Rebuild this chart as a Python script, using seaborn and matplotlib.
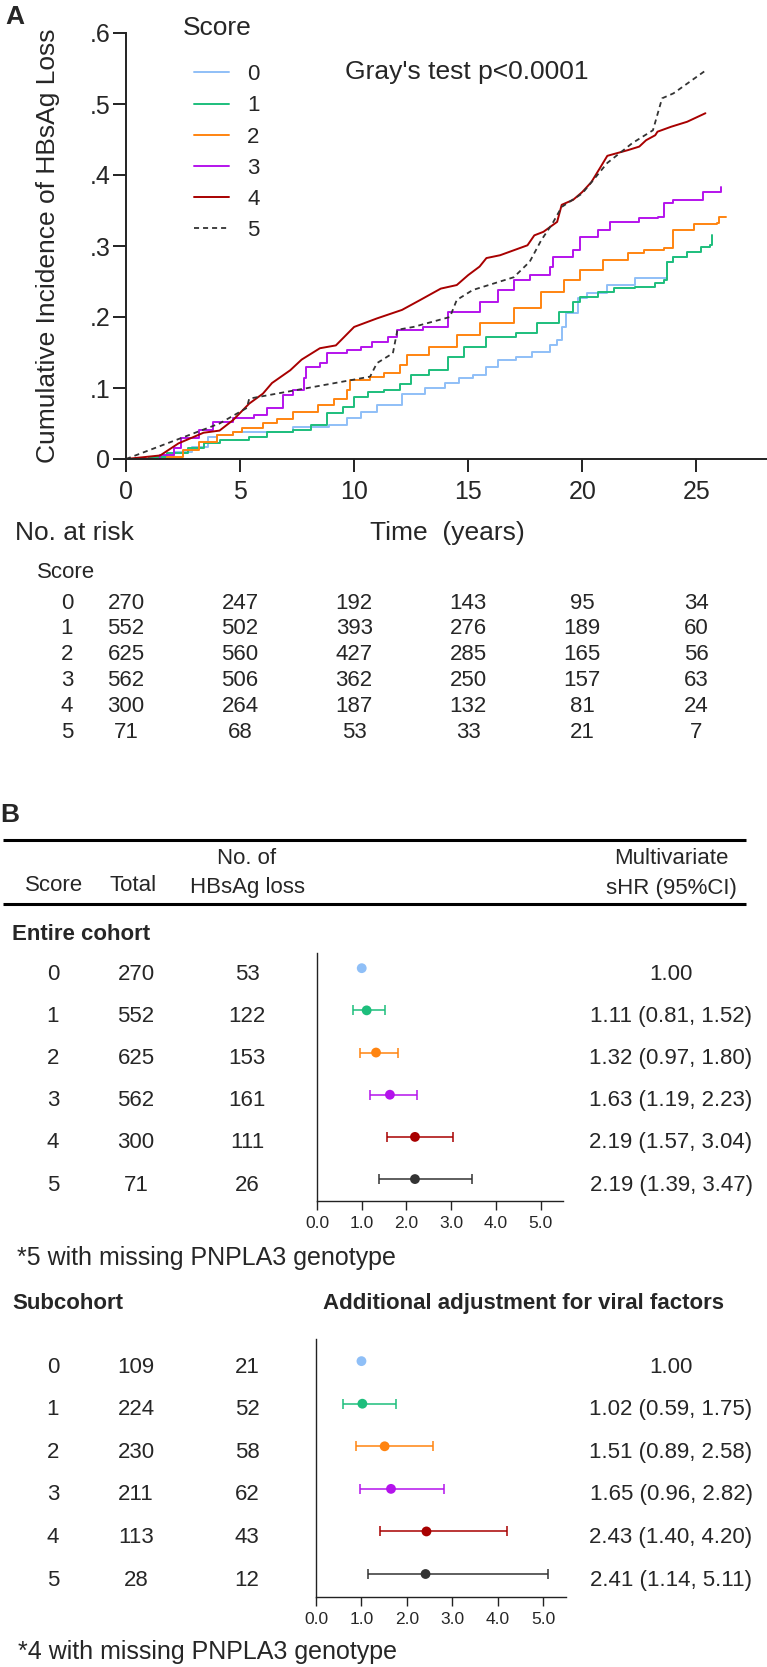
import numpy as np
import pandas as pd
import matplotlib
matplotlib.use('Agg')
import matplotlib.pyplot as plt
import matplotlib.transforms as mtransforms
import seaborn as sns

sns.set_theme(style='white')
plt.rcParams['font.family'] = ['Liberation Sans', 'DejaVu Sans']

# ---------------- data ----------------
scores = [0, 1, 2, 3, 4, 5]
colors = ['#8FBFF7', '#1DBE7C', '#FF8410', '#B413EC', '#A80000', '#333333']

# cumulative incidence curves
t0 = [0, 1.05, 2.1, 2.9, 3.6, 4.0, 4.7, 7.3, 8.9, 9.7, 10.3, 11.0, 12.1, 13.1, 14.0, 14.6, 15.2, 15.8,
      16.3, 17.1, 17.8, 18.6, 18.9, 19.1, 19.3, 19.8, 20.2, 21.1, 22.3, 23.6, 23.7, 24.0, 24.6]
v0 = [0, 0.003, 0.010, 0.017, 0.031, 0.034, 0.038, 0.045, 0.048, 0.058, 0.066, 0.076, 0.092, 0.100, 0.107,
      0.114, 0.118, 0.130, 0.139, 0.144, 0.151, 0.161, 0.168, 0.186, 0.206, 0.227, 0.234, 0.245, 0.255,
      0.255, 0.277, 0.285, 0.290]
t1 = [0, 1.0, 1.8, 2.7, 3.4, 4.1, 5.4, 6.2, 7.3, 8.1, 8.8, 9.5, 10.0, 10.6, 11.3, 12.0, 12.5, 13.3, 14.1,
      14.8, 15.8, 17.1, 18.0, 19.0, 19.6, 19.9, 20.7, 21.4, 22.3, 23.2, 23.6, 23.7, 24.0, 24.6, 25.2, 25.6, 25.7]
v1 = [0, 0.003, 0.008, 0.015, 0.022, 0.027, 0.031, 0.038, 0.041, 0.048, 0.065, 0.073, 0.087, 0.094, 0.097,
      0.105, 0.118, 0.125, 0.144, 0.158, 0.172, 0.177, 0.191, 0.207, 0.221, 0.228, 0.235, 0.241, 0.242,
      0.248, 0.252, 0.277, 0.285, 0.292, 0.299, 0.301, 0.315]
t2 = [0, 1.8, 2.5, 3.2, 4.0, 4.7, 5.1, 6.0, 6.6, 7.3, 8.4, 9.1, 9.7, 9.8, 10.7, 11.3, 12.0, 12.3, 13.3,
      14.5, 15.5, 17.0, 18.2, 19.2, 19.9, 20.9, 22.0, 22.7, 23.6, 24.0, 24.8, 24.9, 25.9, 26.0, 26.3]
v2 = [0, 0.003, 0.013, 0.024, 0.034, 0.038, 0.043, 0.050, 0.057, 0.066, 0.076, 0.085, 0.097, 0.111, 0.116,
      0.121, 0.132, 0.146, 0.158, 0.175, 0.191, 0.212, 0.235, 0.252, 0.266, 0.280, 0.290, 0.294, 0.297,
      0.323, 0.323, 0.331, 0.332, 0.341, 0.341]
t3 = [0, 1.5, 2.1, 2.4, 3.2, 3.8, 4.7, 5.6, 6.2, 6.9, 7.3, 7.8, 7.9, 8.5, 8.8, 9.7, 10.3, 10.8, 11.5, 11.9,
      13.0, 14.1, 15.5, 16.3, 17.0, 17.7, 18.6, 18.7, 19.6, 19.9, 20.7, 21.2, 22.5, 23.3, 23.6, 24.0, 25.3, 26.1]
v3 = [0, 0.005, 0.015, 0.030, 0.041, 0.052, 0.058, 0.062, 0.072, 0.090, 0.097, 0.114, 0.130, 0.135, 0.149,
      0.154, 0.158, 0.165, 0.172, 0.182, 0.186, 0.207, 0.221, 0.238, 0.252, 0.259, 0.270, 0.285, 0.294,
      0.313, 0.323, 0.334, 0.339, 0.341, 0.360, 0.365, 0.376, 0.383]
t4 = [0, 1.5, 2.3, 3.4, 4.1, 4.7, 5.4, 6.0, 6.4, 7.2, 7.7, 8.5, 9.2, 10.0, 11.0, 12.1, 12.9, 13.8, 14.5,
      15.0, 15.5, 15.8, 16.4, 17.0, 17.6, 17.9, 18.3, 18.9, 19.1, 19.6, 20.0, 20.4, 20.8, 21.1, 22.0, 22.5,
      22.8, 23.2, 23.3, 23.9, 24.6, 25.4]
v4 = [0, 0.005, 0.022, 0.037, 0.040, 0.055, 0.078, 0.092, 0.107, 0.125, 0.140, 0.156, 0.160, 0.186, 0.198,
      0.210, 0.224, 0.240, 0.245, 0.259, 0.271, 0.283, 0.287, 0.294, 0.301, 0.315, 0.320, 0.334, 0.358,
      0.365, 0.376, 0.390, 0.411, 0.427, 0.435, 0.440, 0.449, 0.456, 0.461, 0.468, 0.475, 0.487]
t5 = [0, 4.1, 5.3, 5.4, 10.7, 11.0, 11.7, 11.9, 12.6, 14.2, 14.5, 15.2, 17.0, 17.7, 18.2, 18.7, 19.1, 20.0,
      21.1, 22.2, 23.1, 23.5, 24.0, 25.4]
v5 = [0, 0.050, 0.072, 0.085, 0.116, 0.135, 0.149, 0.182, 0.186, 0.200, 0.224, 0.238, 0.256, 0.278, 0.308,
      0.332, 0.355, 0.374, 0.417, 0.445, 0.463, 0.508, 0.515, 0.547]

ytick_vals = [0, 0.1, 0.2, 0.3, 0.4, 0.5, 0.6]
ytick_labels = ['0', '.1', '.2', '.3', '.4', '.5', '.6']
xtick_vals = [0, 5, 10, 15, 20, 25]

# number at risk
risk_times = [0, 5, 10, 15, 20, 25]
at_risk = [[270, 247, 192, 143, 95, 34],
           [552, 502, 393, 276, 189, 60],
           [625, 560, 427, 285, 165, 56],
           [562, 506, 362, 250, 157, 63],
           [300, 264, 187, 132, 81, 24],
           [71, 68, 53, 33, 21, 7]]

# forest plot data
entire_total = [270, 552, 625, 562, 300, 71]
entire_events = [53, 122, 153, 161, 111, 26]
entire_hr = [1.00, 1.11, 1.32, 1.63, 2.19, 2.19]
entire_lo = [np.nan, 0.81, 0.97, 1.19, 1.57, 1.39]
entire_hi = [np.nan, 1.52, 1.80, 2.23, 3.04, 3.47]

sub_total = [109, 224, 230, 211, 113, 28]
sub_events = [21, 52, 58, 62, 43, 12]
sub_hr = [1.00, 1.02, 1.51, 1.65, 2.43, 2.41]
sub_lo = [np.nan, 0.59, 0.89, 0.96, 1.40, 1.14]
sub_hi = [np.nan, 1.75, 2.58, 2.82, 4.20, 5.11]
forest_ticks = [0, 1, 2, 3, 4, 5]

# ---------------- figure ----------------
W, H = 767, 1667
fig = plt.figure(figsize=(W / 100, H / 100), dpi=100)


def box(x0, y0, x1, y1):
    # pixel box (top-left origin) -> figure fraction
    return [x0 / W, 1 - y1 / H, (x1 - x0) / W, (y1 - y0) / H]


# overlay for free text, in pixel coordinates
ov = fig.add_axes([0, 0, 1, 1])
ov.set_xlim(0, W)
ov.set_ylim(H, 0)
ov.axis('off')

# ---- panel A ----
axA = fig.add_axes(box(126, 33, 767, 459))
axA.patch.set_alpha(0)
step_df = pd.concat([pd.DataFrame({'time': t, 'cuminc': v, 'score': s})
                     for t, v, s in zip([t0, t1, t2, t3], [v0, v1, v2, v3], scores[:4])])
sns.lineplot(data=step_df, x='time', y='cuminc', hue='score', palette=colors[:4],
             estimator=None, sort=False, drawstyle='steps-post', linewidth=1.4, legend=False, ax=axA)
sns.lineplot(x=t4, y=v4, color=colors[4], estimator=None, sort=False, linewidth=1.4, ax=axA)
sns.lineplot(x=t5, y=v5, color=colors[5], estimator=None, sort=False, linewidth=1.3,
             linestyle=(0, (2.8, 2.2)), ax=axA)

axA.set_xlim(0, 28.1)
axA.set_ylim(0, 0.6)
axA.set_xticks(xtick_vals)
axA.set_yticks(ytick_vals)
axA.set_yticklabels(ytick_labels)
sns.despine(ax=axA)
for sp in ['left', 'bottom']:
    axA.spines[sp].set_linewidth(1.4)
    axA.spines[sp].set_color('#222222')
axA.tick_params(axis='both', direction='out', length=9.4, width=1.4, color='#222222',
                labelsize=18, left=True, bottom=True)
axA.tick_params(axis='x', pad=6)
axA.tick_params(axis='y', pad=2)

axA.set_ylabel('Cumulative Incidence of HBsAg Loss', fontsize=19)
axA.yaxis.label.set_va('center')
axA.yaxis.set_label_coords((48 - 126) / 641, (459 - 246) / 426)
axA.set_xlabel('Time  (years)', fontsize=19)
axA.xaxis.label.set_va('center')
axA.xaxis.set_label_coords((447 - 126) / 641, -(533 - 459) / 426)

handles = axA.get_lines()[:6]
leg = axA.legend(handles, [str(s) for s in scores], loc='upper left',
                 bbox_to_anchor=(183 / W, 1 - 53 / H), bbox_transform=fig.transFigure,
                 frameon=False, borderpad=0, fontsize=16,
                 handlelength=1.58, handletextpad=0.8, labelspacing=0.46)
ov.text(183, 28, 'Score', fontsize=19, va='center', ha='left')

axA.text((345 - 126) / 641, (459 - 72) / 426, "Gray's test p<0.0001", transform=axA.transAxes,
         fontsize=19, va='center', ha='left')

ov.text(5, 17, 'A', fontsize=19, fontweight='bold', va='center', ha='left')

# number at risk table
ov.text(15, 533, 'No. at risk', fontsize=19, va='center', ha='left')
ov.text(37, 572, 'Score', fontsize=16, va='center', ha='left')
risk_trans = mtransforms.blended_transform_factory(axA.transData, ov.transData)
risk_rows = [603, 628, 654, 680, 706, 732]
for s, counts, ry in zip(scores, at_risk, risk_rows):
    ov.text(67, ry, str(s), fontsize=16, va='center', ha='center')
    for tt, n in zip(risk_times, counts):
        ov.text(tt, ry, str(n), fontsize=16, va='center', ha='center', transform=risk_trans)

# ---- panel B ----
ov.text(0, 815, 'B', fontsize=19, fontweight='bold', va='center', ha='left')
ov.hlines([840, 904], 3, 746, color='black', linewidth=2.2)
ov.text(54, 885, 'Score', fontsize=16, ha='center', va='center')
ov.text(133, 885, 'Total', fontsize=16, ha='center', va='center')
ov.text(247, 858, 'No. of', fontsize=16, ha='center', va='center')
ov.text(247, 887, 'HBsAg loss', fontsize=16, ha='center', va='center')
ov.text(671, 858, 'Multivariate', fontsize=16, ha='center', va='center')
ov.text(671, 888, 'sHR (95%CI)', fontsize=16, ha='center', va='center')
ov.text(12, 934, 'Entire cohort', fontsize=16, fontweight='bold', ha='left', va='center')
ov.text(17, 1258, '*5 with missing PNPLA3 genotype', fontsize=18, ha='left', va='center')
ov.text(12, 1303, 'Subcohort', fontsize=16, fontweight='bold', ha='left', va='center')
ov.text(323, 1303, 'Additional adjustment for viral factors', fontsize=16, fontweight='bold',
        ha='left', va='center')
ov.text(18, 1652, '*4 with missing PNPLA3 genotype', fontsize=18, ha='left', va='center')


def forest(rect, ylim, total, events, hr, lo, hi):
    ax = fig.add_axes(rect)
    ax.patch.set_alpha(0)
    rows = np.arange(len(scores))
    for r in rows[1:]:
        ax.errorbar(hr[r], r, xerr=[[hr[r] - lo[r]], [hi[r] - hr[r]]], fmt='none',
                    ecolor=colors[r], elinewidth=1.1, capsize=3.3, capthick=1.1)
    sns.scatterplot(x=hr, y=rows, hue=scores, palette=colors, s=50, linewidth=0,
                    legend=False, zorder=3, ax=ax)
    ax.set_xlim(0, 5.5)
    ax.set_ylim(*ylim)
    ax.set_xticks(forest_ticks)
    ax.set_xticklabels([f'{v:.1f}' for v in forest_ticks])
    ax.set_yticks([])
    ax.set_xlabel('')
    ax.set_ylabel('')
    sns.despine(ax=ax)
    for sp in ['left', 'bottom']:
        ax.spines[sp].set_linewidth(1.0)
        ax.spines[sp].set_color('#222222')
    ax.tick_params(axis='x', direction='out', length=6.5, width=1.0, color='#222222',
                   labelsize=12.5, pad=4, bottom=True)
    # table text on the same rows
    tr = mtransforms.blended_transform_factory(ov.transData, ax.transData)
    tr = mtransforms.offset_copy(tr, fig=fig, y=-6, units='dots')
    for r in rows:
        ov.text(53, r, str(scores[r]), fontsize=16, ha='center', va='center', transform=tr)
        ov.text(136, r, str(total[r]), fontsize=16, ha='center', va='center', transform=tr)
        ov.text(247, r, str(events[r]), fontsize=16, ha='center', va='center', transform=tr)
        if np.isnan(lo[r]):
            lab = f'{hr[r]:.2f}'
        else:
            lab = f'{hr[r]:.2f} ({lo[r]:.2f}, {hi[r]:.2f})'
        ov.text(671, r, lab, fontsize=16, ha='center', va='center', transform=tr)
    return ax


forest(box(317, 953, 563, 1201), (5.52, -0.36), entire_total, entire_events, entire_hr, entire_lo, entire_hi)
forest(box(316, 1339, 566, 1597), (5.54, -0.52), sub_total, sub_events, sub_hr, sub_lo, sub_hi)

fig.savefig('out.png', dpi=100)
